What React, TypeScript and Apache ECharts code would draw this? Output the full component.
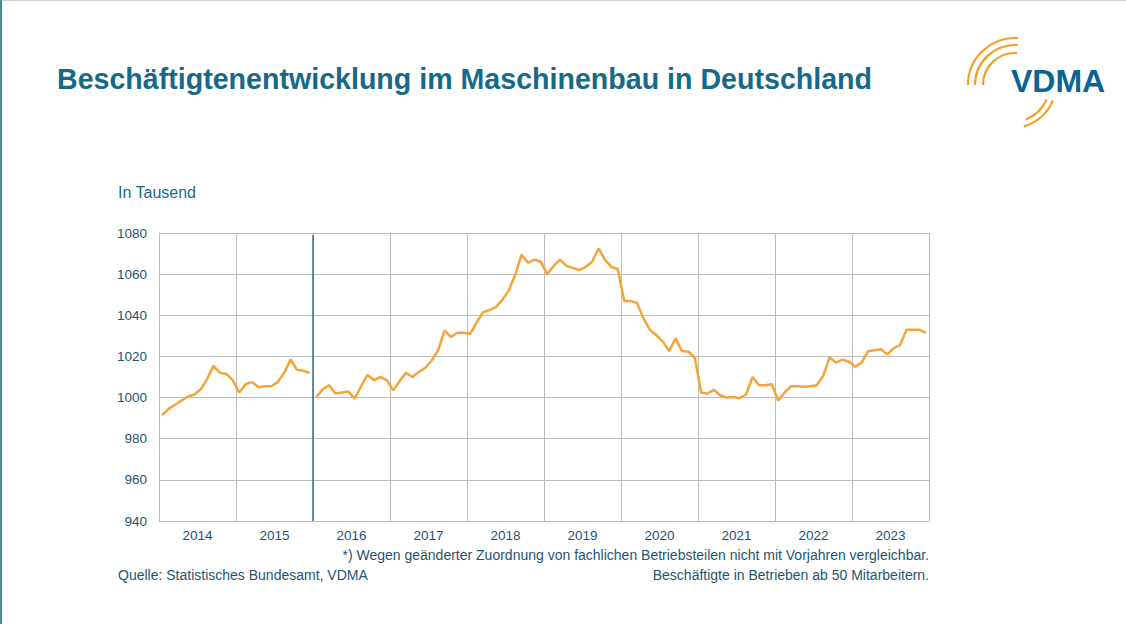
import React, { useEffect, useRef } from "react";
import * as echarts from "echarts";

const years = ["2014", "2015", "2016", "2017", "2018", "2019", "2020", "2021", "2022", "2023"];
const y2014 = [991.5, 994.5, 996.5, 998.5, 1000.5, 1001.5, 1004, 1009, 1015.4, 1012, 1011.5, 1008.5];
const y2015 = [1002.5, 1006.5, 1007.5, 1005, 1005.5, 1005.5, 1007.5, 1012, 1018.5, 1013.5, 1013, 1012];
const y2016 = [1000, 1004, 1006, 1002, 1002.5, 1003, 999.5, 1005.5, 1011, 1008.5, 1010, 1008.5];
const y2017 = [1003.5, 1008, 1012, 1010, 1012.5, 1014.5, 1018, 1023, 1032.5, 1029.5, 1031.5, 1031.5];
const y2018 = [1031, 1036.5, 1041.5, 1042.5, 1044, 1047.5, 1052, 1059.5, 1069.5, 1065.5, 1067, 1066];
const y2019 = [1060, 1064, 1067, 1064, 1063, 1062, 1063.5, 1066, 1072.5, 1067, 1063.5, 1062.5];
const y2020 = [1047, 1047, 1046, 1038.5, 1033, 1030.3, 1027.3, 1022.6, 1028.8, 1022.6, 1022.3, 1019.5];
const y2021 = [1002.3, 1002, 1003.7, 1001, 1000, 1000.3, 999.7, 1001.5, 1010, 1006, 1006, 1006.5];
const y2022 = [998.5, 1002.5, 1005.5, 1005.5, 1005.3, 1005.5, 1006, 1010.5, 1019.5, 1017, 1018.5, 1017.5];
const y2023 = [1015, 1017, 1022.5, 1023, 1023.5, 1021, 1024, 1025.5, 1033, 1033, 1033, 1031.5];
const yTicks = [940, 960, 980, 1000, 1020, 1040, 1060, 1080];

const allYears = [y2014, y2015, y2016, y2017, y2018, y2019, y2020, y2021, y2022, y2023];
const breakAfterYear = 1; // line break after 2015

const TEXT = "#1f5470";
const TEAL = "#17698a";

export default function App() {
  const ref = useRef<HTMLDivElement>(null);
  useEffect(() => {
    if (!ref.current) return;
    const chart = echarts.init(ref.current, undefined, { renderer: "svg" });
    const data: any[] = [];
    allYears.forEach((arr, yi) => {
      arr.forEach((v, m) => data.push([yi * 12 + m + 0.5, v]));
      if (yi === breakAfterYear) data.push([(yi + 1) * 12, "-"]);
    });
    const font = "'Liberation Sans', Arial, sans-serif";
    chart.setOption({
      animation: false,
      backgroundColor: "#ffffff",
      textStyle: { fontFamily: font },
      grid: { left: 159, right: 197, top: 233, bottom: 103 },
      xAxis: [
        {
          type: "value",
          min: 0,
          max: 120,
          interval: 12,
          position: "bottom",
          axisLine: { show: true, lineStyle: { color: "#bdbdbd", width: 1 } },
          axisTick: { show: false },
          axisLabel: { show: false },
          splitLine: { show: true, lineStyle: { color: "#bdbdbd", width: 1 } },
        },
        {
          type: "category",
          data: years,
          boundaryGap: true,
          position: "bottom",
          axisLine: { show: false },
          axisTick: { show: false },
          splitLine: { show: false },
          axisLabel: { color: TEXT, fontSize: 13.5, margin: 7, fontFamily: font },
        },
      ],
      yAxis: {
        type: "value",
        min: yTicks[0],
        max: yTicks[yTicks.length - 1],
        interval: 20,
        axisLine: { show: true, lineStyle: { color: "#bdbdbd" } },
        axisTick: { show: false },
        axisLabel: { color: TEXT, fontSize: 13.5, margin: 12, fontFamily: font, formatter: (v: number) => String(v) },
        splitLine: { show: true, lineStyle: { color: "#bdbdbd", width: 1 } },
      },
      series: [
        {
          type: "line",
          xAxisIndex: 0,
          data,
          showSymbol: false,
          symbol: "none",
          connectNulls: false,
          lineStyle: { color: "#f4a43a", width: 2.5 },
          markLine: {
            silent: true,
            symbol: "none",
            label: { show: false },
            lineStyle: { color: "#2b6f8c", width: 1.5, type: "solid" },
            data: [[{ coord: [(breakAfterYear + 1) * 12, 1079] }, { coord: [(breakAfterYear + 1) * 12, 940] }]],
          },
        },
      ],
      graphic: [
        { type: "rect", left: 0, top: 0, shape: { width: 1126, height: 1 }, style: { fill: "#d0d0d0" } },
        { type: "rect", left: 0, top: 0, shape: { width: 2, height: 624 }, style: { fill: "#4a8f9c" } },
        {
          type: "text",
          left: 57,
          top: 64,
          style: {
            text: "Beschäftigtenentwicklung im Maschinenbau in Deutschland",
            fill: TEAL,
            font: `bold 28.6px ${font}`,
          },
        },
        {
          type: "text",
          left: 118,
          top: 184,
          style: { text: "In Tausend", fill: TEAL, font: `16px ${font}` },
        },
        {
          type: "text",
          right: 1126 - 929,
          top: 548,
          style: {
            text: "*) Wegen geänderter Zuordnung von fachlichen Betriebsteilen nicht mit Vorjahren vergleichbar.",
            fill: TEXT,
            font: `14px ${font}`,
          },
        },
        {
          type: "text",
          left: 118,
          top: 568,
          style: { text: "Quelle: Statistisches Bundesamt, VDMA", fill: TEXT, font: `14px ${font}` },
        },
        {
          type: "text",
          right: 1126 - 929,
          top: 568,
          style: { text: "Beschäftigte in Betrieben ab 50 Mitarbeitern.", fill: TEXT, font: `14px ${font}` },
        },
        // VDMA logo
        {
          type: "text",
          left: 1011,
          top: 65,
          style: { text: "VDMA", fill: "#0a6690", font: `bold 32px ${font}` },
        },
        { type: "arc", shape: { cx: 1015, cy: 85, r: 47, startAngle: Math.PI * 1.0, endAngle: Math.PI * 1.52 }, style: { stroke: "#f0a12a", lineWidth: 2.2, fill: "none" } },
        { type: "arc", shape: { cx: 1015, cy: 85, r: 40, startAngle: Math.PI * 1.0, endAngle: Math.PI * 1.52 }, style: { stroke: "#f0a12a", lineWidth: 2.2, fill: "none" } },
        { type: "arc", shape: { cx: 1015, cy: 85, r: 32, startAngle: Math.PI * 1.0, endAngle: Math.PI * 1.52 }, style: { stroke: "#f0a12a", lineWidth: 2.2, fill: "none" } },
        { type: "arc", shape: { cx: 1012, cy: 84, r: 44, startAngle: 0.38, endAngle: 1.3 }, style: { stroke: "#f0a12a", lineWidth: 2.2, fill: "none" } },
        { type: "arc", shape: { cx: 1012, cy: 84, r: 38, startAngle: 0.42, endAngle: 1.2 }, style: { stroke: "#f0a12a", lineWidth: 2.2, fill: "none" } },
      ],
    });
    return () => chart.dispose();
  }, []);
  return <div ref={ref} style={{ position: "fixed", left: 0, top: 0, width: 1126, height: 624 }} />;
}
